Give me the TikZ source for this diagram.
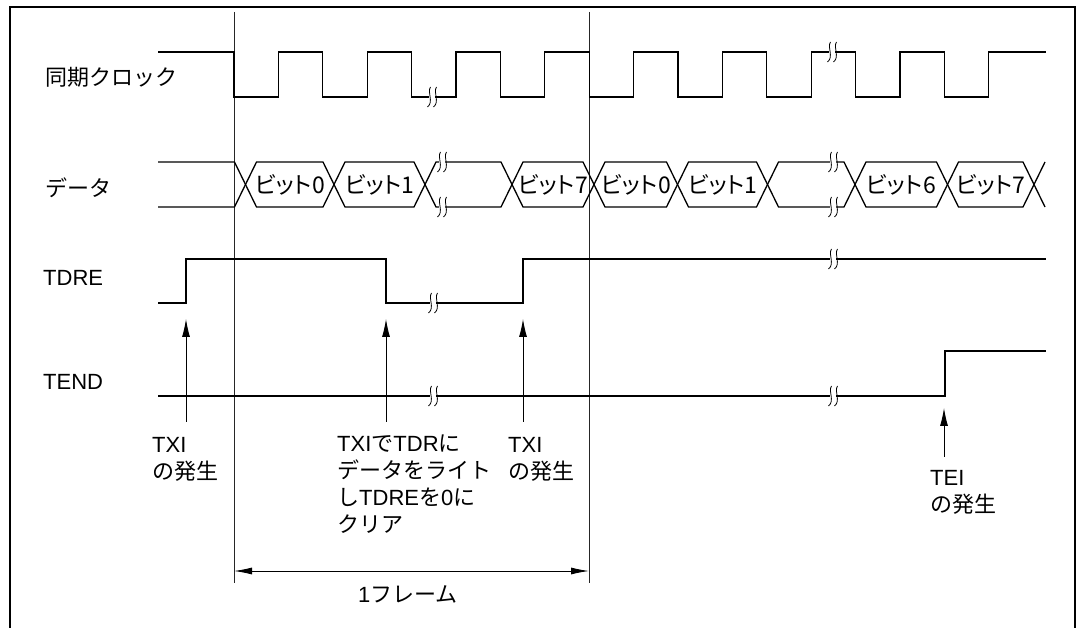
\documentclass[tikz,border=0pt]{standalone}
\usepackage{fontspec}
\setmainfont{Liberation Sans}
\newfontfamily\jp{Noto Sans CJK JP}
\newfontfamily\jpnarrow[RawFeature=+palt]{Noto Sans CJK JP}
\usetikzlibrary{arrows.meta,positioning,calc}

% break mark: white gap with two small S strokes
\newcommand\wavebreak[1]{%
  \begin{scope}[shift={(#1)}]
    \fill[white] (-3,-7) rectangle (3,7);
    \draw[line width=0.8pt] (-1.5,-10) .. controls (-5,-5) and (2,5) .. (-4.5,10);
    \draw[line width=0.8pt] (4.5,-10) .. controls (1,-5) and (8,5) .. (1.5,10);
  \end{scope}}

\begin{document}
\begin{tikzpicture}[
    x=1pt, y=-1pt,
    % --- STYLES ---
    signal/.style={line width=1.3pt, line join=miter},
    guide/.style={line width=0.9pt, black!85},
    signame/.style={font=\fontsize{22}{26}\selectfont, inner sep=0pt, anchor=west},
    lbl/.style={font=\fontsize{22}{26.7}\selectfont, inner sep=0pt, align=left, anchor=base west},
    bitlbl/.style={font=\jpnarrow\fontsize{23}{26}\selectfont, inner sep=0pt},
    event/.style={-{Latex[length=18pt,width=8pt]}, line width=0.9pt},
    framespan/.style={{Latex[length=18pt,width=7pt]}-{Latex[length=18pt,width=7pt]}, line width=0.9pt}
]

\useasboundingbox (0,0) rectangle (1080,628);
\draw[line width=1.4pt] (10,628) -- (10,7) -- (1075,7) -- (1075,628);

% ===== 1. SIGNAL NAMES =====
\node[signame] (nclk)  at (45,77)  {\jp 同期クロック};
\node[signame] (ndata) at (45,188) {\jp データ};
\node[signame] (ntdre) at (43,278) {TDRE};
\node[signame] (ntend) at (43,382) {TEND};

% ===== 2. FRAME GUIDES =====
\coordinate (fAtop) at (234,12);  \coordinate (fAbot) at (234,583);
\coordinate (fBtop) at (589,12);  \coordinate (fBbot) at (589,583);
\draw[guide] (fAtop) -- (fAbot);
\draw[guide] (fBtop) -- (fBbot);

% ===== 3. WAVEFORMS =====
% clock
\draw[signal] (158,52) -- (234,52)
  \foreach \k in {1,...,8}{ -- ++(0,45) -- ++(44.4,0) -- ++(0,-45) -- ++(44.4,0)}
  -- ++(0,45) -- ++(44.4,0) -- ++(0,-45) -- (1046,52);

% data
\draw[signal] (158,162) -- (234.5,162) -- (245.5,184.5) -- (234.5,207) -- (158,207);
\foreach \a/\b in {245.5/334, 334/425, 425/512, 512/594, 594/677.5,
                   677.5/767.5, 767.5/855, 855/947.5, 947.5/1034}
  \draw[signal] (\a,184.5) -- (\a+11,162) -- (\b-11,162) -- (\b,184.5)
                -- (\b-11,207) -- (\a+11,207) -- cycle;
\draw[signal] (1034,184.5) -- (1045,162);
\draw[signal] (1034,184.5) -- (1045,207);

\node[bitlbl] (b0a) at (290,184.5)   {ビット0};
\node[bitlbl] (b1a) at (379.5,184.5) {ビット1};
\node[bitlbl] (b7a) at (553,184.5)   {ビット7};
\node[bitlbl] (b0b) at (636,184.5)   {ビット0};
\node[bitlbl] (b1b) at (722.5,184.5) {ビット1};
\node[bitlbl] (b6b) at (901,184.5)   {ビット6};
\node[bitlbl] (b7b) at (990.5,184.5) {ビット7};

% TDRE / TEND
\draw[signal] (158,303) -- (186,303) -- (186,259) -- (386,259) -- (386,303)
              -- (523,303) -- (523,259) -- (1046,259);
\draw[signal] (158,396) -- (945,396) -- (945,351) -- (1046,351);

% breaks
\wavebreak{432,97}  \wavebreak{832,52}
\wavebreak{442,162} \wavebreak{442,207}
\wavebreak{833,162} \wavebreak{833,207}
\wavebreak{433,303} \wavebreak{833,259}
\wavebreak{433,396} \wavebreak{833,396}

% ===== 4. EVENTS =====
% (base anchor sits on the last line)
\node[lbl] (txiA) at (152,479) {TXI\\{\jp の発生}};
\node[lbl] (txiW) at (337,532) {TXI{\jp で}TDR{\jp に}\\{\jp データをライト}\\{\jp し}TDRE{\jp を}0{\jp に}\\{\jp クリア}};
\node[lbl] (txiB) at (508,479) {TXI\\{\jp の発生}};
\node[lbl] (tei)  at (930,512) {TEI\\{\jp の発生}};

\coordinate (aAfoot) at (186,422); \coordinate (aAtip) at (186,319);
\coordinate (aWfoot) at (386,422); \coordinate (aWtip) at (386,319);
\coordinate (aBfoot) at (523,422); \coordinate (aBtip) at (523,319);
\coordinate (aTfoot) at (944,457); \coordinate (aTtip) at (944,408);
\draw[event] (aAfoot) -- (aAtip);
\draw[event] (aWfoot) -- (aWtip);
\draw[event] (aBfoot) -- (aBtip);
\draw[event] (aTfoot) -- (aTtip);

% ===== 5. FRAME SPAN =====
\coordinate (spanL) at (234,571);
\coordinate (spanR) at (589,571);
\draw[framespan] (spanL) -- (spanR);
\node[font=\fontsize{22}{26}\selectfont, inner sep=0pt] (frm) at (408,594) {1{\jp フレーム}};

\end{tikzpicture}
\end{document}
